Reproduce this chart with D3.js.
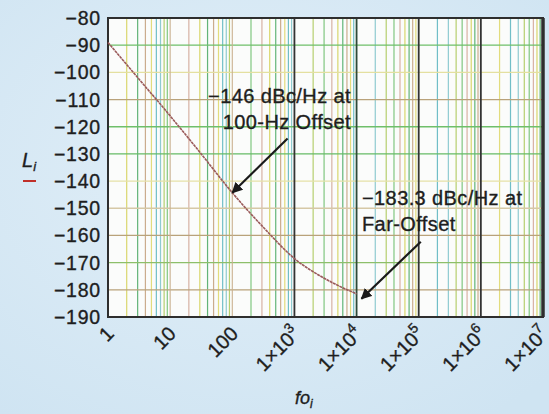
<!DOCTYPE html>
<html>
<head>
<meta charset="utf-8">
<script src="https://cdn.jsdelivr.net/npm/d3@7"></script>
<style>
  html, body { margin: 0; padding: 0; }
  body { width: 549px; height: 414px; overflow: hidden; }
  text { font-family: "Liberation Sans", Arial, sans-serif; fill: #1e1e1e; stroke: #1e1e1e; stroke-width: 0.35px; }
</style>
</head>
<body>
<svg id="chart" width="549" height="414"></svg>
<script>
// offset frequency (Hz) and phase noise (dBc/Hz)
var freqs = [1, 3.16, 10, 31.6, 100, 316, 1000, 3162, 10000];
var noise = [-89, -102.5, -116, -130, -144.3, -157, -168.5, -176, -181.5];

var xTicks = [1, 10, 100, 1e3, 1e4, 1e5, 1e6, 1e7];
var yTicks = [-80, -90, -100, -110, -120, -130, -140, -150, -160, -170, -180, -190];

// callouts: text lines, arrow tail and tip in data units
var notes = [
    { lines: ["\u2212146 dBc/Hz at", "100-Hz Offset"], tail: [776, -124.3], tip: [100, -144.3] },
    { lines: ["\u2212183.3 dBc/Hz at", "Far-Offset"], tail: [1.08e5, -162.3], tip: [1.2e4, -183.3] }
];

var svg = d3.select('#chart');
var pLeft = 108, pRight = 543, pTop = 18, pBottom = 317;

var x = d3.scaleLog().domain([1, 1e7]).range([pLeft, pRight]);
var y = d3.scaleLinear().domain([-190, -80]).range([pBottom, pTop]);

// page background
var defs = svg.append('defs');
var grad = defs.append('radialGradient').attr('id', 'bg')
    .attr('cx', '45%').attr('cy', '40%').attr('r', '75%');
grad.append('stop').attr('offset', '0%').attr('stop-color', '#e2eff8');
grad.append('stop').attr('offset', '100%').attr('stop-color', '#cfe4f2');
defs.append('marker').attr('id', 'head')
    .attr('viewBox', '0 0 10 10').attr('refX', 9).attr('refY', 5)
    .attr('markerWidth', 5).attr('markerHeight', 5).attr('orient', 'auto')
    .append('path').attr('d', 'M0 0 L10 5 L0 10 z').attr('fill', '#1a1a1a');

svg.append('rect').attr('width', 549).attr('height', 414).attr('fill', 'url(#bg)');
svg.append('rect').attr('x', pLeft).attr('y', pTop)
    .attr('width', pRight - pLeft).attr('height', pBottom - pTop)
    .attr('fill', '#fbfcfb');

// minor verticals, colours wander like the scanned grid
var minorColors = ['#74c274', '#d6d35e', '#c6a482', '#62b8c2', '#afcb60', '#d4aa9a', '#52ad6a', '#e0d970', '#84c6cc'];
var minor = [];
d3.range(0, 7).forEach(function(dec) {
    d3.range(2, 10).forEach(function(k) {
        minor.push({ f: k * Math.pow(10, dec), i: dec * 8 + k });
    });
});
svg.append('g').selectAll('line').data(minor).join('line')
    .attr('x1', function(d) { return x(d.f); })
    .attr('x2', function(d) { return x(d.f); })
    .attr('y1', pTop).attr('y2', pBottom)
    .attr('stroke', function(d) { return minorColors[(d.i * 5) % minorColors.length]; })
    .attr('stroke-width', 1.2)
    .attr('opacity', 0.9);

// horizontal grid
var hColors = ['#333', '#6fbf6a', '#e4e0a0', '#b9a27a', '#6fbf6a', '#66bb66', '#e6e2a8', '#d6c8a6', '#b9a27a', '#8dbf6a', '#b9a27a', '#333'];
svg.append('g').selectAll('line').data(yTicks).join('line')
    .attr('x1', pLeft).attr('x2', pRight)
    .attr('y1', function(d) { return y(d); })
    .attr('y2', function(d) { return y(d); })
    .attr('stroke', function(d, i) { return hColors[i]; })
    .attr('stroke-width', 1.3);

// decade lines
svg.append('g').selectAll('line').data(xTicks.slice(1, 7)).join('line')
    .attr('x1', function(d) { return x(d); })
    .attr('x2', function(d) { return x(d); })
    .attr('y1', pTop).attr('y2', pBottom)
    .attr('stroke', function(d) { return d < 1e3 ? '#c9b08f' : (d == 1e4 ? '#2d4a38' : '#333'); })
    .attr('stroke-width', function(d) { return d < 1e3 ? 1.1 : 1.8; });

// frame
svg.append('rect').attr('x', pLeft).attr('y', pTop)
    .attr('width', pRight - pLeft).attr('height', pBottom - pTop)
    .attr('fill', 'none').attr('stroke', '#2e2e2e').attr('stroke-width', 2);
svg.append('line').attr('x1', pRight).attr('x2', pRight).attr('y1', pTop).attr('y2', pBottom)
    .attr('stroke', '#2e2e2e').attr('stroke-width', 3.5);

// trace
var line = d3.line()
    .x(function(d, i) { return x(freqs[i]); })
    .y(function(d) { return y(d); })
    .curve(d3.curveMonotoneX);
svg.append('path').datum(noise)
    .attr('d', line)
    .attr('fill', 'none')
    .attr('stroke', '#9a5a5a')
    .attr('stroke-width', 1.6)
    .attr('stroke-dasharray', '3 0.6');

// y tick labels
svg.append('g').selectAll('text').data(yTicks).join('text')
    .attr('x', 101)
    .attr('y', function(d) { return y(d); })
    .attr('dy', '0.36em')
    .attr('text-anchor', 'end')
    .attr('font-size', 19.5)
    .attr('letter-spacing', 0.8)
    .text(function(d) { return '\u2212' + Math.abs(d); });

// x tick labels, rotated
var xl = svg.append('g').selectAll('text').data(xTicks).join('text')
    .attr('text-anchor', 'end')
    .attr('font-size', 20)
    .attr('transform', function(d) { return 'translate(' + (x(d) + 7) + ',335) rotate(-45)'; });
xl.each(function(d) {
    var t = d3.select(this);
    var e = Math.round(Math.log10(d));
    if (e < 3) {
        t.text(String(d));
    } else {
        t.append('tspan').text('1\u00d710');
        t.append('tspan').attr('font-size', 14).attr('dy', -9).text(e);
    }
});

// axis titles
var lt = svg.append('text').attr('x', 22).attr('y', 167).attr('font-size', 20)
    .attr('font-style', 'italic');
lt.append('tspan').text('L');
lt.append('tspan').attr('font-size', 13).attr('dy', 4).text('i');
svg.append('line').attr('x1', 23).attr('x2', 36).attr('y1', 181).attr('y2', 181)
    .attr('stroke', '#c0302a').attr('stroke-width', 2);

var ft = svg.append('text').attr('x', 295).attr('y', 404).attr('font-size', 18)
    .attr('font-style', 'italic');
ft.append('tspan').text('fo');
ft.append('tspan').attr('font-size', 12).attr('dy', 4).text('i');

// callouts
var n1 = svg.append('text').attr('text-anchor', 'end').attr('font-size', 20)
    .attr('letter-spacing', 0.4);
n1.selectAll('tspan').data(notes[0].lines).join('tspan')
    .attr('x', 351)
    .attr('y', function(d, i) { return 103 + i * 25.5; })
    .text(function(d) { return d; });
var n2 = svg.append('text').attr('text-anchor', 'start').attr('font-size', 20)
    .attr('letter-spacing', 0.4);
n2.selectAll('tspan').data(notes[1].lines).join('tspan')
    .attr('x', 362)
    .attr('y', function(d, i) { return 205 + i * 25.5; })
    .text(function(d) { return d; });

svg.append('g').selectAll('line').data(notes).join('line')
    .attr('x1', function(d) { return x(d.tail[0]); })
    .attr('y1', function(d) { return y(d.tail[1]); })
    .attr('x2', function(d) { return x(d.tip[0]); })
    .attr('y2', function(d) { return y(d.tip[1]); })
    .attr('stroke', '#1a1a1a')
    .attr('stroke-width', 2.2)
    .attr('marker-end', 'url(#head)');
</script>
</body>
</html>
